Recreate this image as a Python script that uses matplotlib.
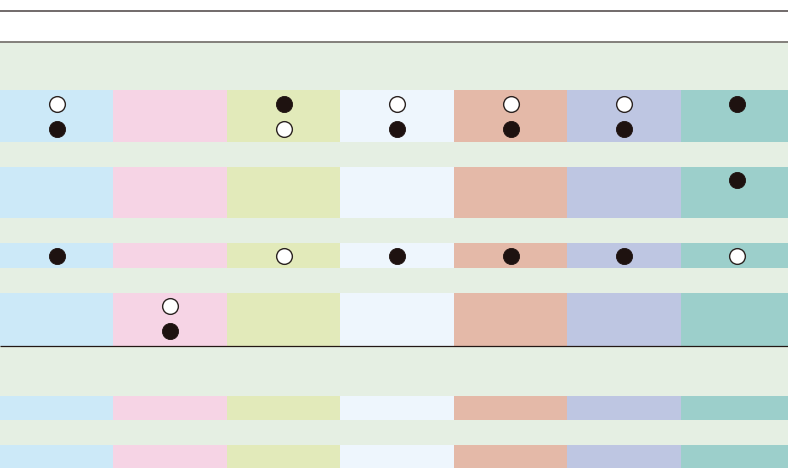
import matplotlib
matplotlib.use("Agg")
import matplotlib.pyplot as plt
from matplotlib.patches import Rectangle

# ---- data ----
columns = ["C1", "C2", "C3", "C4", "C5", "C6", "C7"]
column_colors = ["#cce9f8", "#f6d4e5", "#e2eaba", "#eef6fd", "#e4b9a8", "#bec6e2", "#9ccfcb"]
band_color = "#e5efe3"

# dot states per row slot: 'f' = filled, 'o' = open, '' = none
rowA_slot1 = ["o", "", "f", "o", "o", "o", "f"]
rowA_slot2 = ["f", "", "o", "f", "f", "f", ""]
rowB_slot1 = ["", "", "", "", "", "", "f"]
rowC_slot1 = ["f", "", "o", "f", "f", "f", "o"]
rowD_slot1 = ["", "o", "", "", "", "", ""]
rowD_slot2 = ["", "f", "", "", "", "", ""]

# ---- layout (pixel units) ----
W, H = 788, 468
col_w = 113.45
rows = [  # (top, bottom, list of (slot_y, states))
    (90, 142, [(103.5, rowA_slot1), (129.3, rowA_slot2)]),
    (167.3, 218, [(179.7, rowB_slot1)]),
    (243, 268, [(255.7, rowC_slot1)]),
    (293, 346, [(306.3, rowD_slot1), (331.3, rowD_slot2)]),
    (395.5, 420.3, []),
    (445, 468, []),
]

fig = plt.figure(figsize=(W / 100, H / 100), dpi=100)
ax = fig.add_axes([0, 0, 1, 1])
ax.set_xlim(0, W)
ax.set_ylim(H, 0)
ax.axis("off")

# green background below header
ax.add_patch(Rectangle((0, 42), W, H - 42, facecolor=band_color, edgecolor="none", zorder=0))

for top, bot, slots in rows:
    for i, c in enumerate(column_colors):
        ax.add_patch(Rectangle((i * col_w, top), col_w, bot - top, facecolor=c,
                               edgecolor="none", zorder=1))
    for y, states in slots:
        for i, s in enumerate(states):
            if not s:
                continue
            x = (i + 0.5) * col_w
            if s == "f":
                ax.scatter([x], [y], s=135, facecolor="#1e1210", edgecolor="#1e1210",
                           linewidths=0.6, zorder=3)
            else:
                ax.scatter([x], [y], s=128, facecolor="white", edgecolor="#2a2220",
                           linewidths=1.0, zorder=3)

# horizontal rules
ax.plot([0, W], [10.8, 10.8], color="#4a4242", lw=1.1, zorder=4, solid_capstyle="butt")
ax.plot([0, W], [41.6, 41.6], color="#7a7672", lw=1.3, zorder=4, solid_capstyle="butt")
ax.plot([0, W], [345.9, 345.9], color="#231815", lw=0.9, zorder=4, solid_capstyle="butt")

fig.savefig("out.png", dpi=100)
